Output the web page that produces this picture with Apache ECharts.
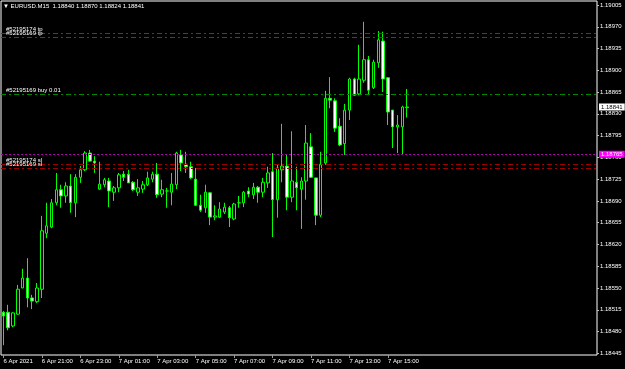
<!DOCTYPE html>
<html>
<head>
<meta charset="utf-8">
<script src="https://cdn.jsdelivr.net/npm/echarts@6/dist/echarts.min.js"></script>
<style>
html,body{margin:0;padding:0;background:#000;}
#chart{width:625px;height:369px;}
</style>
</head>
<body>
<div id="chart"></div>
<script>
// ---------- data ----------
const symbolName = 'EURUSD.M15';
const firstBar = '2021-04-06T19:00:00Z';
const totalSlots = 124; // bars + empty right-side shift area

const opens = [1.18511,1.18511,1.18489,1.18508,1.18550,1.18566,1.18534,1.18528,1.18548,1.18638,
1.18648,1.18687,1.18708,1.18698,1.18714,1.18687,1.18728,1.18740,1.18767,1.18754,
1.18709,1.18716,1.18722,1.18704,1.18711,1.18733,1.18733,1.18720,1.18704,1.18709,
1.18716,1.18725,1.18733,1.18701,1.18706,1.18704,1.18716,1.18764,1.18749,1.18745,
1.18725,1.18683,1.18679,1.18703,1.18664,1.18664,1.18672,1.18679,1.18661,1.18687,
1.18687,1.18706,1.18700,1.18712,1.18704,1.18719,1.18737,1.18692,1.18740,1.18746,
1.18696,1.18720,1.18709,1.18722,1.18777,1.18727,1.18667,1.18751,1.18855,1.18851,
1.18810,1.18782,1.18836,1.18886,1.18862,1.18884,1.18917,1.18872,1.18912,1.18947,
1.18888,1.18836,1.18809,1.18809,1.18840];
const highs = [1.18513,1.18523,1.18511,1.18555,1.18581,1.18598,1.18539,1.18558,1.18666,1.18687,
1.18693,1.18735,1.18716,1.18720,1.18733,1.18733,1.18746,1.18770,1.18772,1.18762,
1.18753,1.18727,1.18727,1.18714,1.18735,1.18738,1.18740,1.18722,1.18725,1.18722,
1.18737,1.18737,1.18751,1.18724,1.18711,1.18735,1.18769,1.18772,1.18769,1.18753,
1.18743,1.18700,1.18716,1.18704,1.18683,1.18688,1.18687,1.18682,1.18687,1.18698,
1.18706,1.18712,1.18719,1.18714,1.18727,1.18745,1.18767,1.18748,1.18814,1.18764,
1.18802,1.18745,1.18728,1.18812,1.18799,1.18727,1.18769,1.18867,1.18889,1.18855,
1.18823,1.18846,1.18888,1.18888,1.18941,1.18978,1.18923,1.18917,1.18963,1.18962,
1.18889,1.18836,1.18828,1.18843,1.18870];
const lows = [1.18458,1.18482,1.18487,1.18507,1.18550,1.18519,1.18516,1.18526,1.18534,1.18630,
1.18646,1.18683,1.18679,1.18687,1.18671,1.18664,1.18719,1.18738,1.18753,1.18735,
1.18708,1.18712,1.18680,1.18690,1.18704,1.18722,1.18719,1.18706,1.18698,1.18703,
1.18714,1.18720,1.18695,1.18696,1.18679,1.18683,1.18709,1.18738,1.18735,1.18725,
1.18682,1.18672,1.18671,1.18651,1.18659,1.18663,1.18669,1.18648,1.18659,1.18679,
1.18680,1.18696,1.18693,1.18687,1.18696,1.18711,1.18632,1.18663,1.18720,1.18675,
1.18688,1.18675,1.18645,1.18692,1.18727,1.18651,1.18664,1.18748,1.18839,1.18801,
1.18778,1.18764,1.18820,1.18859,1.18860,1.18880,1.18860,1.18870,1.18904,1.18865,
1.18812,1.18775,1.18767,1.18764,1.18824];
const closes = [1.18505,1.18486,1.18510,1.18548,1.18566,1.18534,1.18529,1.18550,1.18642,1.18650,
1.18687,1.18708,1.18698,1.18714,1.18687,1.18728,1.18740,1.18767,1.18754,1.18751,
1.18717,1.18724,1.18706,1.18711,1.18732,1.18728,1.18719,1.18708,1.18711,1.18716,
1.18727,1.18733,1.18700,1.18708,1.18706,1.18717,1.18767,1.18751,1.18745,1.18727,
1.18683,1.18675,1.18704,1.18664,1.18666,1.18677,1.18680,1.18663,1.18685,1.18687,
1.18704,1.18701,1.18712,1.18704,1.18720,1.18735,1.18692,1.18743,1.18746,1.18696,
1.18722,1.18711,1.18722,1.18783,1.18728,1.18667,1.18749,1.18855,1.18852,1.18807,
1.18780,1.18836,1.18886,1.18860,1.18886,1.18917,1.18868,1.18913,1.18949,1.18886,
1.18833,1.18809,1.18812,1.18841,1.18841];

const xTickTimes = ['2021.04.06 19:00','2021.04.06 21:00','2021.04.06 23:00','2021.04.07 01:00',
'2021.04.07 03:00','2021.04.07 05:00','2021.04.07 07:00','2021.04.07 09:00',
'2021.04.07 11:00','2021.04.07 13:00','2021.04.07 15:00'];
const xTickTexts = ['6 Apr 2021','6 Apr 21:00','6 Apr 23:00','7 Apr 01:00','7 Apr 03:00',
'7 Apr 05:00','7 Apr 07:00','7 Apr 09:00','7 Apr 11:00','7 Apr 13:00','7 Apr 15:00'];

const yTicks = [1.19005,1.18970,1.18935,1.18900,1.18865,1.18830,1.18795,1.18760,1.18725,
1.18690,1.18655,1.18620,1.18585,1.18550,1.18515,1.18480,1.18445];
const yMin = 1.184423, yMax = 1.190114;

const tpLevels = [1.18960, 1.18953];
const tpNames = ['#52195174 tp', '#52195169 tp'];
const slLevels = [1.18749, 1.18743];
const slNames = ['#52195174 sl', '#52195169 sl'];
const buyLevel = 1.18862;
const buyName = '#52195169 buy 0.01';
const alertLevel = 1.18765;

// ---------- build ----------
function fmt(d){
  const p = n => String(n).padStart(2,'0');
  return d.getUTCFullYear()+'.'+p(d.getUTCMonth()+1)+'.'+p(d.getUTCDate())+' '+p(d.getUTCHours())+':'+p(d.getUTCMinutes());
}
const t0 = Date.parse(firstBar);
const categories = [];
for (let i = 0; i < totalSlots; i++) categories.push(fmt(new Date(t0 + i*15*60000)));

const candleData = opens.map((o,i) => [o, closes[i], lows[i], highs[i]]);
const last = opens.length - 1;
const titleText = '\u25BC ' + symbolName + '  ' +
  [opens[last], highs[last], lows[last], closes[last]].map(v => v.toFixed(5)).join(' ');

const FONT = "'Liberation Sans', Arial, sans-serif";
const FS = 6;
const isTick = (idx, val) => xTickTimes.indexOf(val) >= 0;

function leftLabel(text){
  return {show:true, position:'insideStartTop', distance:[5,1], formatter:text,
    color:'#ffffff', fontSize:FS, fontFamily:FONT};
}
const tpData = tpLevels.map((v,i) => ({yAxis:v, label:leftLabel(tpNames[i])}));
const markData = [];
markData.push({yAxis:buyLevel,
  lineStyle:{color:'#008a00', width:1, type:[5,3,2,3]}, label:leftLabel(buyName)});
slLevels.forEach((v,i) => markData.push({yAxis:v,
  lineStyle:{color:'#a00000', width:1, type:[5,3,2,3]}, label:leftLabel(slNames[i])}));
markData.push({yAxis:alertLevel,
  lineStyle:{color:'#b000b0', width:1, type:[2,2]},
  label:{show:true, position:'end', distance:2, formatter:alertLevel.toFixed(5),
    color:'#ffffff', backgroundColor:'#ff00ff', padding:[0,2,0,2], lineHeight:7,
    fontSize:FS, fontFamily:FONT}});
markData.push({yAxis:closes[last],
  lineStyle:{color:'rgba(0,0,0,0)', width:1},
  label:{show:true, position:'end', distance:2, formatter:closes[last].toFixed(5),
    color:'#000000', backgroundColor:'#ffffff', padding:[0,2,0,2], lineHeight:7,
    fontSize:FS, fontFamily:FONT}});

const chart = echarts.init(document.getElementById('chart'), null, {renderer:'canvas'});
chart.setOption({
  backgroundColor:'#000000',
  animation:false,
  title:{text:titleText, left:3, top:3, padding:0,
    textStyle:{color:'#ffffff', fontSize:FS, fontWeight:'normal', fontFamily:FONT}},
  grid:{left:1, top:1, right:28, bottom:14, show:true, borderColor:'#ffffff', borderWidth:1,
    backgroundColor:'transparent', containLabel:false},
  xAxis:{type:'category', data:categories, boundaryGap:true,
    axisLine:{show:false},
    axisTick:{show:true, alignWithLabel:true, interval:isTick, length:3, lineStyle:{color:'#9a9a9a'}},
    axisLabel:{show:true, interval:isTick, align:'left', margin:3, color:'#ffffff',
      fontSize:FS, fontFamily:FONT,
      formatter:(val) => { const k = xTickTimes.indexOf(val); return k >= 0 ? xTickTexts[k] : ''; }},
    splitLine:{show:false}},
  yAxis:{type:'value', position:'right', min:yMin, max:yMax, scale:true,
    axisLine:{show:false},
    splitLine:{show:false},
    axisTick:{show:true, customValues:yTicks, length:2, lineStyle:{color:'#c0c0c0'}},
    axisLabel:{show:true, customValues:yTicks, margin:3, color:'#ffffff', fontSize:FS, fontFamily:FONT,
      formatter:(v) => v.toFixed(5)}},
  series:[{
    type:'candlestick', data:candleData, barWidth:3,
    itemStyle:{color:'#000000', color0:'#ffffff', borderColor:'#00ff00', borderColor0:'#00ff00',
      borderColorDoji:'#00ff00', borderWidth:1}
  },{
    type:'line', data:[], symbol:'none', silent:true,
    markLine:{silent:true, precision:5, symbol:['none','none'], animation:false, data:markData}
  },{
    type:'line', data:[], symbol:'none', silent:true, color:'#ff0000',
    markLine:{silent:true, precision:5, symbol:['none','none'], animation:false,
      lineStyle:{color:'#e00000', width:1, type:[5,3,2,3], opacity:1},
      data:tpData}
  }]
});
</script>
</body>
</html>
